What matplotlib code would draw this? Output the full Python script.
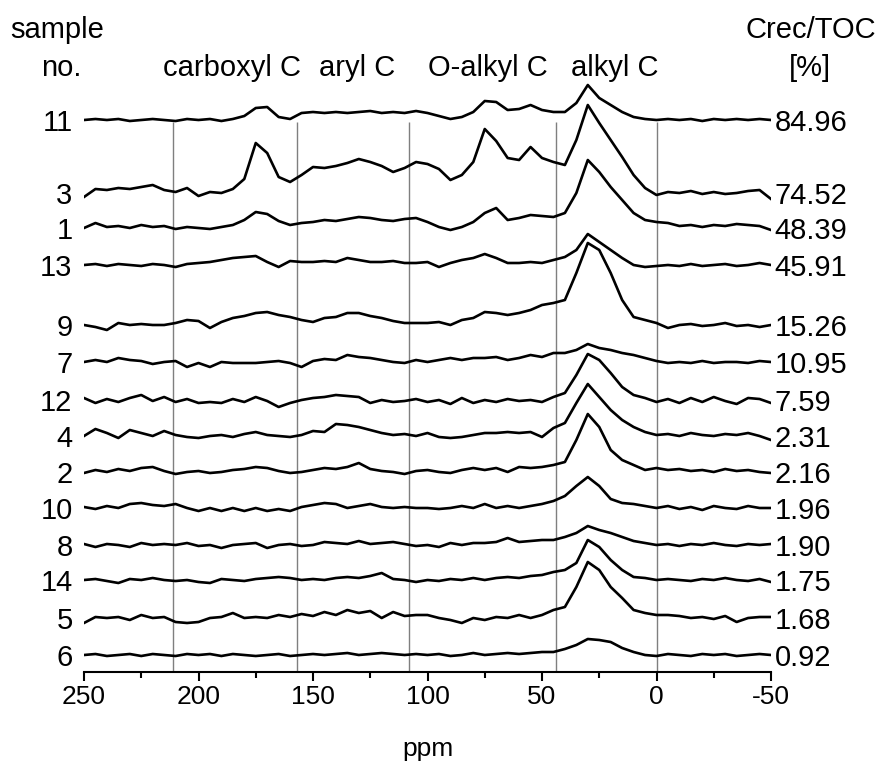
import numpy as np
import matplotlib
matplotlib.use("Agg")
import matplotlib.pyplot as plt

plt.rcParams['font.family'] = ['Liberation Sans', 'DejaVu Sans']

# chemical shift grid (ppm), shared by all spectra
ppm = np.arange(250, -51, -5)

# sample order from top to bottom, with the Crec/TOC value of each
samples = ['11', '3', '1', '13', '9', '7', '12', '4', '2', '10', '8', '14', '5', '6']
crec_toc = ['84.96', '74.52', '48.39', '45.91', '15.26', '10.95', '7.59',
            '2.31', '2.16', '1.96', '1.90', '1.75', '1.68', '0.92']

# signal intensities, 250 -> -50 ppm (arbitrary units)
s11 = [0, 1, 0, 1, -1, 0, 1, 0, -1, 1,
       0, 1, -1, 1, 4, 12, 13, 3, 1, 7,
       8, 7, 8, 7, 8, 9, 7, 8, 7, 9,
       7, 4, 1, 3, 8, 19, 18, 10, 11, 15,
       10, 8, 8, 17, 35, 22, 15, 8, 3, 1,
       0, 1, 0, 1, -1, 1, 0, 1, 0, 1, 0]
s3 = [-4, 4, 3, 5, 4, 6, 8, 3, 1, 5,
      -3, 1, 0, 4, 14, 50, 40, 16, 11, 18,
      26, 25, 27, 30, 34, 31, 27, 21, 25, 31,
      29, 24, 13, 18, 31, 64, 52, 35, 33, 46,
      35, 31, 28, 53, 88, 70, 53, 36, 18, 5,
      -2, 1, 0, 2, -1, 1, -1, 0, 2, 3, -6]
s1 = [0, 5, 1, 2, 0, 3, 1, 2, -1, 1,
      0, -1, 1, 3, 8, 16, 14, 7, 3, 5,
      6, 8, 7, 9, 11, 10, 8, 7, 9, 10,
      6, 1, -2, 1, 6, 15, 20, 8, 10, 13,
      12, 11, 15, 35, 68, 56, 41, 28, 15, 8,
      6, 5, 2, 3, 1, 3, 2, 4, 3, 2, -2]
s13 = [0, 1, -1, 1, 0, -1, 1, 0, -2, 1,
       2, 3, 5, 7, 8, 9, 3, -2, 4, 3,
       3, 4, 3, 7, 5, 3, 3, 4, 2, 2,
       3, -2, 2, 5, 7, 11, 7, 2, 2, 3,
       2, 5, 8, 15, 31, 23, 15, 7, 0, -2,
       -1, 0, -1, 1, -1, 0, 1, -1, 0, 2, 0]
s9 = [0, -2, -5, 2, 0, 1, 0, 0, 2, 5,
      4, -3, 3, 7, 9, 12, 13, 10, 8, 5,
      3, 7, 8, 12, 12, 9, 7, 4, 2, 2,
      2, 3, 0, 5, 7, 13, 12, 10, 12, 15,
      20, 22, 25, 52, 82, 75, 52, 25, 8, 5,
      2, -3, 0, 1, -1, 0, 2, -1, 0, -2, 0]
s7 = [0, 2, 0, 4, 2, 1, -2, 0, 1, -5,
      -1, -5, 0, -1, -1, -1, 0, 1, -1, -5,
      1, 3, 2, 7, 5, 4, 2, 0, -1, 2,
      0, 2, 4, 2, 4, 4, 5, 2, 4, 7,
      5, 9, 9, 12, 18, 14, 12, 9, 7, 4,
      1, -1, 0, -1, 1, -1, 0, 0, -1, 1, 0]
s12 = [2, -3, 1, -2, 2, 5, -1, 3, -2, 1,
       -3, -2, -3, 1, -2, 3, -1, -7, -3, 0,
       2, 3, 5, 4, 3, -3, 0, -2, -1, 1,
       -2, 0, -4, 2, -3, 0, -2, 1, -1, 0,
       -2, 3, 7, 25, 46, 40, 27, 13, 5, 2,
       -2, 1, -3, 2, -2, 3, -1, -4, 2, 1, -3]
s4 = [0, 7, 3, -2, 6, 3, 0, 5, 1, -1,
      -2, 0, 1, -1, 2, 4, 1, 0, -1, 1,
      5, 4, 12, 11, 9, 6, 3, 1, 2, 0,
      3, -1, -2, -1, 1, 3, 3, 4, 3, 4,
      -1, 8, 13, 33, 52, 39, 26, 16, 9, 4,
      1, 2, 0, 3, 1, 0, 2, 1, 3, 0, -4]
s2 = [-1, 2, 0, 3, 1, 4, 5, 1, -2, 0,
      1, -1, 0, 2, 3, 5, 4, 1, -1, 0,
      2, 4, 3, 5, 9, 3, 1, 0, -2, 1,
      2, 0, -1, 2, 4, 2, 4, 0, 5, 4,
      5, 7, 10, 32, 58, 45, 22, 12, 7, 2,
      4, 2, 3, 1, 2, 0, 3, 1, 2, 0, -1]
s10 = [1, -1, 2, 0, 4, 5, 3, 2, 4, 0,
       -3, 0, -3, 0, -3, 0, -3, -1, -3, 1,
       3, 5, 4, 0, 2, 4, 1, 0, 1, 0,
       0, -1, 0, 2, 0, 4, 0, 2, 0, 2,
       4, 7, 12, 22, 31, 22, 9, 5, 4, 2,
       0, 2, -1, 1, -2, 2, 0, -1, 2, 0, 0]
s8 = [1, -2, 1, 0, -2, 2, 0, 1, 0, 2,
      -1, 0, -3, 0, 1, 2, -3, 0, 1, -1,
      0, 3, 2, 1, 4, 1, 2, 3, 1, -1,
      0, -2, 2, 0, 2, 2, 3, 7, 3, 4,
      5, 5, 8, 12, 19, 15, 12, 8, 4, 2,
      0, 1, -1, 1, 0, 2, 0, -1, 1, 0, 1]
s14 = [0, 1, -1, -3, 1, 0, 2, 0, -1, 0,
       -2, -3, 1, 0, -1, 1, 2, 3, 2, 0,
       1, 0, 2, 3, 2, 4, 7, 1, 0, -2,
       0, -1, 1, 0, 2, 0, 2, 3, 2, 4,
       5, 8, 10, 17, 40, 33, 20, 10, 3, 2,
       0, 1, 0, -1, 1, 0, 2, 0, -1, 1, -2]
s5 = [-5, 1, 0, 1, -2, 3, 0, 1, -4, -5,
      -4, 0, 1, 5, 0, 1, 0, 3, 1, 4,
      2, 6, 3, 8, 5, 7, 0, 6, 2, 3,
      3, 0, -2, -5, 0, -2, 1, 0, 3, 0,
      3, 8, 11, 31, 56, 48, 31, 20, 8, 5,
      3, 3, 2, 0, 1, -1, 2, -4, 0, 1, 1]
s6 = [0, 1, -1, 0, 1, -1, 1, 0, -1, 1,
      0, 1, -1, 1, 0, -1, 0, 1, -1, 0,
      1, 0, 1, 2, 0, 1, 2, 1, 0, 1,
      0, 1, -1, 0, 2, 0, 1, 2, 1, 2,
      3, 3, 6, 10, 16, 15, 13, 7, 3, 0,
      -1, 1, 0, -1, 1, 0, 1, -1, 0, 1, 0]
spectra = [s11, s3, s1, s13, s9, s7, s12, s4, s2, s10, s8, s14, s5, s6]

# region borders (ppm) and region names
borders = [211, 157, 108, 44, 0]
regions = ['carboxyl C', 'aryl C', 'O-alkyl C', 'alkyl C']

# layout: vertical offset of every trace (same units as intensity)
offsets = [552, 479, 444, 407, 347, 310, 272, 236, 200, 164, 127, 92, 54, 17]

W, H = 881, 766
fig = plt.figure(figsize=(W / 100, H / 100), dpi=100)
ax = fig.add_axes([84 / W, 94 / H, (771 - 84) / W, 672 / H])

for y, off in zip(spectra, offsets):
    ax.plot(ppm, np.array(y) + off, color='black', lw=1.9, solid_joinstyle='round')

ax.vlines(borders, 0, 550, color='#7f7f7f', lw=1.0, zorder=0)

for name, off, val in zip(samples, offsets, crec_toc):
    ax.text(255, off, name, ha='right', va='center_baseline', fontsize=21)
    ax.text(-51.5, off, val, ha='left', va='center_baseline', fontsize=21)

ax.set_xlim(250, -50)
ax.set_ylim(0, 672)
for side in ['left', 'right', 'top']:
    ax.spines[side].set_visible(False)
ax.spines['bottom'].set_linewidth(1.5)
ax.set_yticks([])
ax.set_xticks(np.arange(250, -51, -50))
ax.set_xticks(np.arange(225, -50, -50), minor=True)
ax.set_xticklabels(['250', '200', '150', '100', '50', '0', '-50'])
ax.tick_params(axis='x', which='major', direction='out', length=6.5, width=1.5,
               labelsize=19, pad=3)
ax.tick_params(axis='x', which='minor', direction='out', length=4.3, width=1.5)
ax.set_xlabel('ppm', fontsize=19, labelpad=20)

def ftext(x, y, s, **kw):
    fig.text(x / W, 1 - y / H, s, ha='center', va='baseline', fontsize=21, **kw)

ftext(57, 38, 'sample')
ftext(61, 76, 'no.')
ftext(811, 38, 'Crec/TOC')
ftext(810, 76, '[%]')
for name, x in zip(regions, [232, 357, 488, 615]):
    ftext(x, 76, name)

fig.savefig('out.png', dpi=100)
